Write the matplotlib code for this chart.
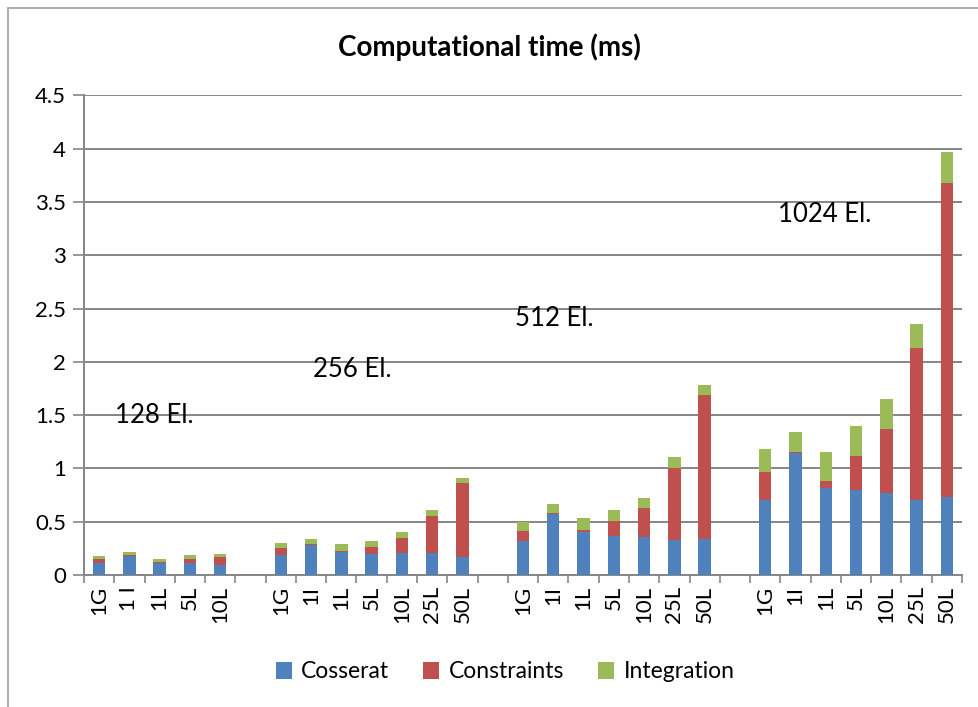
import numpy as np
import matplotlib
matplotlib.use("Agg")
import matplotlib.pyplot as plt
from matplotlib.patches import Rectangle
from matplotlib.ticker import FixedLocator

plt.rcParams['font.family'] = ['Lato', 'DejaVu Sans']

group_names = ["128 El.", "256 El.", "512 El.", "1024 El."]
labels_128 = ["1G", "1 I", "1L", "5L", "10L"]
labels_other = ["1G", "1I", "1L", "5L", "10L", "25L", "50L"]
group_labels = [labels_128, labels_other, labels_other, labels_other]

cosserat_128 = [0.11, 0.18, 0.11, 0.11, 0.097]
constraints_128 = [0.037, 0.005, 0.01, 0.04, 0.075]
integration_128 = [0.031, 0.031, 0.03, 0.035, 0.025]

cosserat_256 = [0.188, 0.284, 0.213, 0.20, 0.209, 0.206, 0.169]
constraints_256 = [0.062, 0.006, 0.012, 0.065, 0.141, 0.347, 0.69]
integration_256 = [0.053, 0.048, 0.063, 0.054, 0.056, 0.057, 0.05]

cosserat_512 = [0.32, 0.57, 0.40, 0.37, 0.354, 0.325, 0.335]
constraints_512 = [0.095, 0.01, 0.025, 0.14, 0.272, 0.682, 1.351]
integration_512 = [0.085, 0.086, 0.11, 0.097, 0.099, 0.097, 0.094]

cosserat_1024 = [0.70, 1.14, 0.82, 0.80, 0.77, 0.70, 0.73]
constraints_1024 = [0.27, 0.01, 0.065, 0.32, 0.60, 1.43, 2.95]
integration_1024 = [0.21, 0.19, 0.27, 0.28, 0.28, 0.22, 0.29]

cosserat = [cosserat_128, cosserat_256, cosserat_512, cosserat_1024]
constraints = [constraints_128, constraints_256, constraints_512, constraints_1024]
integration = [integration_128, integration_256, integration_512, integration_1024]

series_names = ["Cosserat", "Constraints", "Integration"]
colors = ["#4F81BD", "#C0504D", "#9BBB59"]
grid_color = "#868686"

fig = plt.figure(figsize=(9.79, 7.07), dpi=100)
ax = fig.add_axes([84/979, 1-575/707, (962-84)/979, (575-95.3)/707])

# build positions with one empty slot between groups
positions = []
tick_labels = []
pos = 0
for labs in group_labels:
    idx = list(range(pos, pos + len(labs)))
    positions.append(idx)
    tick_labels.extend(labs)
    pos += len(labs) + 1
n_slots = pos - 1

all_pos = np.concatenate(positions)
c = np.concatenate(cosserat)
k = np.concatenate(constraints)
g = np.concatenate(integration)
width = 0.41
ax.bar(all_pos, c, width, color=colors[0], label=series_names[0], zorder=3)
ax.bar(all_pos, k, width, bottom=c, color=colors[1], label=series_names[1], zorder=3)
ax.bar(all_pos, g, width, bottom=c + k, color=colors[2], label=series_names[2], zorder=3)

ax.set_xlim(-0.5, n_slots - 0.5)
ax.set_ylim(0, 4.5)
ax.set_yticks(np.arange(0, 4.51, 0.5))
ax.set_yticklabels(["0", "0.5", "1", "1.5", "2", "2.5", "3", "3.5", "4", "4.5"], fontsize=16)
ax.yaxis.grid(True, color=grid_color, linewidth=1.4, zorder=0)
ax.set_axisbelow(True)
ax.tick_params(axis='y', length=8, width=1.2, color=grid_color, pad=5)

ax.set_xticks(all_pos)
ax.set_xticklabels(tick_labels, rotation=90, fontsize=16)
ax.tick_params(axis='x', which='major', length=0, pad=8)
ax.xaxis.set_minor_locator(FixedLocator(np.arange(-0.5, n_slots, 1.0)))
ax.tick_params(axis='x', which='minor', length=6, width=1.2, color=grid_color)

for s in ['top', 'right']:
    ax.spines[s].set_visible(False)
for s in ['left', 'bottom']:
    ax.spines[s].set_color(grid_color)
    ax.spines[s].set_linewidth(1.4)

# group annotations
ann_x = [0.52, 7.06, 13.73, 22.42]
ann_y = [1.50, 1.93, 2.41, 3.38]
for name, xx, yy in zip(group_names, ann_x, ann_y):
    ax.text(xx, yy, name, fontsize=18.5, ha='left', va='center', zorder=4)

fig.text(0.5, 1-47/707, "Computational time (ms)", ha='center', va='center',
         fontsize=20, fontweight='bold')

handles, labs = ax.get_legend_handles_labels()
fig.legend(handles, labs, loc='center', bbox_to_anchor=(0.516, 1-672/707), ncol=3,
           frameon=False, fontsize=16.5, handlelength=0.7, handleheight=0.7,
           handletextpad=0.4, columnspacing=1.5)

fig.patches.append(Rectangle((8/979, -0.01), 1.0, 1-8/707 + 0.01, transform=fig.transFigure,
                             fill=False, edgecolor="#A0A0A0", linewidth=1.2))

fig.savefig("out.png", dpi=100)
